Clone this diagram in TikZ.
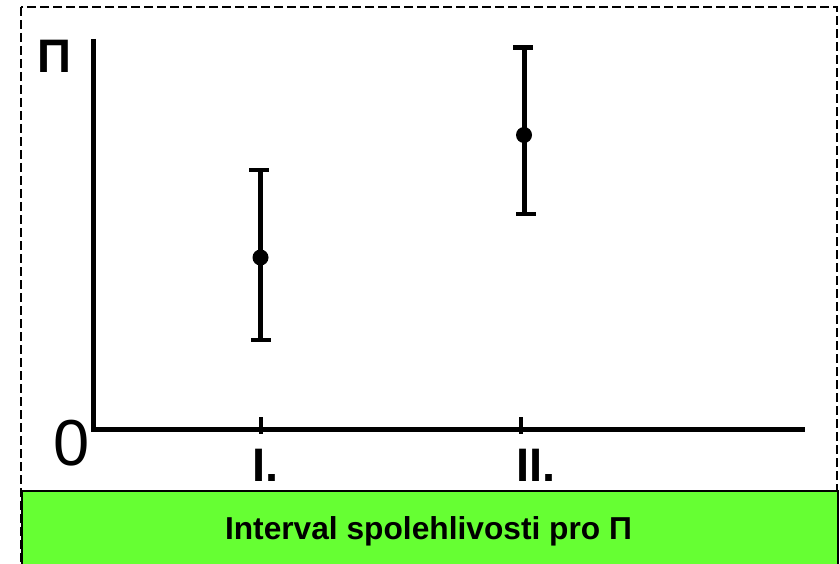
\documentclass[tikz,border=0pt]{standalone}
\usepackage{fontspec}
\setmainfont{Liberation Sans}
\definecolor{capgreen}{HTML}{66FF33}
\begin{document}
\begin{tikzpicture}[x=1pt,y=-1pt,
  axisline/.style={line width=5pt},
  ebar/.style={line width=5pt},
  ecap/.style={line width=4.5pt},
  edot/.style={circle,fill=black,inner sep=0pt,minimum size=16pt},
  frame/.style={dash pattern=on 9pt off 4pt,line width=2.5pt},
  lab/.style={inner sep=0pt,font=\bfseries\fontsize{47}{47}\selectfont},
]
\useasboundingbox (0,0) rectangle (840,564);
\clip (0,0) rectangle (840,564);
% dashed frame
\draw[frame] (21,7) rectangle (837,570);
% axes
\coordinate (ytop) at (93,39);
\coordinate (orig) at (93,429);
\coordinate (xend) at (805,429);
\draw[axisline] (ytop) -- (orig) -- (xend);
% ticks
\coordinate (t1a) at (260.5,417); \coordinate (t1b) at (260.5,434);
\coordinate (t2a) at (520.5,417); \coordinate (t2b) at (520.5,434);
\draw[line width=4pt] (t1a) -- (t1b);
\draw[line width=4pt] (t2a) -- (t2b);
% labels
\node[lab,anchor=base] (pi) at (54,73) {Π};
\node[inner sep=0pt,anchor=base,font=\fontsize{65}{65}\selectfont] (zero) at (71.5,465) {0};
\node[lab,anchor=base] (l1) at (265.5,481) {I.};
\node[lab,anchor=base] (l2) at (536,481) {II.};
% error bar I
\coordinate (a1) at (260.5,170); \coordinate (b1) at (260.5,340);
\coordinate (a1l) at (249,170); \coordinate (a1r) at (269,170);
\coordinate (b1l) at (251,340); \coordinate (b1r) at (271,340);
\draw[ebar] (a1) -- (b1);
\draw[ecap] (a1l) -- (a1r);
\draw[ecap] (b1l) -- (b1r);
\node[edot] (d1) at (260.5,257.5) {};
% error bar II
\coordinate (a2) at (524,47.5); \coordinate (b2) at (524,214);
\coordinate (a2l) at (513,47.5); \coordinate (a2r) at (533,47.5);
\coordinate (b2l) at (516,214); \coordinate (b2r) at (536,214);
\draw[ebar] (a2) -- (b2);
\draw[ecap] (a2l) -- (a2r);
\draw[ecap] (b2l) -- (b2r);
\node[edot] (d2) at (524,135) {};
% caption box
\node[draw=black,line width=2pt,fill=capgreen,minimum width=816pt,minimum height=80pt,anchor=north west,inner sep=0pt] (cap) at (21,490) {};
\node[inner sep=0pt,anchor=base,font=\bfseries\fontsize{31.7}{31.7}\selectfont] (captext) at (428.5,539) {Interval spolehlivosti pro Π};
\end{tikzpicture}
\end{document}
